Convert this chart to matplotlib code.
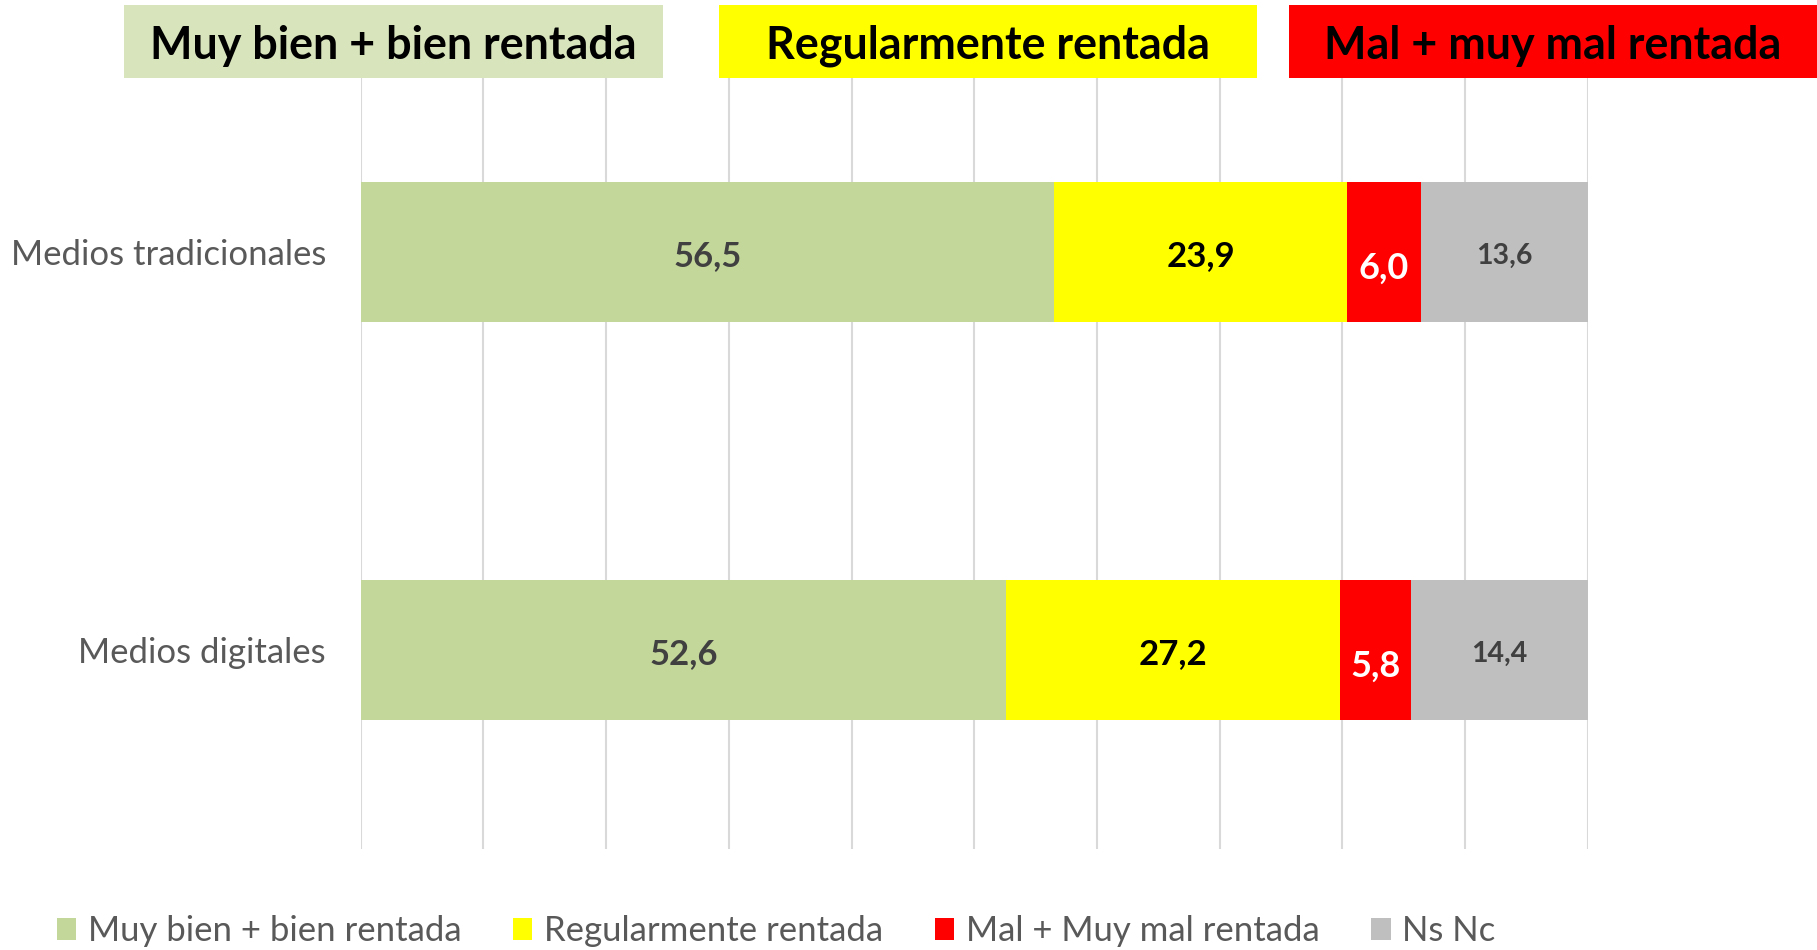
import matplotlib
matplotlib.use("Agg")
import matplotlib.pyplot as plt
from matplotlib.patches import Rectangle, Patch

categories = ["Medios tradicionales", "Medios digitales"]
series_names = ["Muy bien + bien rentada", "Regularmente rentada",
                "Mal + Muy mal rentada", "Ns Nc"]
muy_bien = [56.5, 52.6]
regular = [23.9, 27.2]
mal = [6.0, 5.8]
nsnc = [13.6, 14.4]
header_labels = ["Muy bien + bien rentada", "Regularmente rentada", "Mal + muy mal rentada"]

colors = ["#C4D79B", "#FFFF00", "#FF0000", "#BFBFBF"]
header_colors = ["#D8E4BC", "#FFFF00", "#FF0000"]
label_colors = ["#404040", "#000000", "#FFFFFF", "#404040"]
label_sizes = [25, 25, 26, 20.5]
label_dy = [-0.009, -0.009, -0.04, -0.009]

plt.rcParams['font.family'] = ['Lato', 'DejaVu Sans']

W, H = 1817, 950
fig = plt.figure(figsize=(W / 100, H / 100), dpi=100)
ax = fig.add_axes([360.7 / W, 1 - 849 / H, (1587.7 - 360.7) / W, (849 - 53) / H])

ypos = [1, 0]
series = [muy_bien, regular, mal, nsnc]
left = [0.0, 0.0]
bar_h = 0.354
for si, vals in enumerate(series):
    ax.barh(ypos, vals, left=left, height=bar_h, color=colors[si],
            label=series_names[si], zorder=3)
    for ci, v in enumerate(vals):
        ax.text(left[ci] + v / 2, ypos[ci] + label_dy[si], f"{v:.1f}".replace(".", ","),
                ha="center", va="center", fontsize=label_sizes[si],
                fontweight="bold", color=label_colors[si], zorder=4)
    left = [l + v for l, v in zip(left, vals)]

ax.set_xlim(0, 100)
ax.set_ylim(-0.5, 1.5)
ax.set_xticks(range(0, 101, 10))
ax.xaxis.grid(True, color="#D9D9D9", linewidth=1.5, zorder=0)
ax.set_axisbelow(True)
ax.tick_params(axis="x", bottom=False, labelbottom=False)
ax.set_yticks(ypos)
ax.set_yticklabels(categories, fontsize=25, color="#595959")
ax.tick_params(axis="y", left=False, pad=21.5)
for s in ax.spines.values():
    s.set_visible(False)

# header boxes
boxes = [(124, 663), (718.5, 1257), (1288.5, 1817)]
for (x0, x1), txt, c in zip(boxes, header_labels, header_colors):
    fig.patches.append(Rectangle((x0 / W, 1 - 78 / H), (x1 - x0) / W, 73 / H,
                                 transform=fig.transFigure, facecolor=c,
                                 edgecolor="none", zorder=5))
    fig.text((x0 + x1) / 2 / W, 1 - 46 / H, txt, ha="center", va="center",
             fontsize=32.3, fontweight="bold", color="black", zorder=6)

handles = [Patch(facecolor=c, edgecolor="none") for c in colors]
fig.legend(handles, series_names, loc="center left", bbox_to_anchor=(57 / W, 1 - 931 / H),
           ncol=4, frameon=False, fontsize=25, labelcolor="#595959",
           handlelength=0.55, handleheight=0.6, handletextpad=0.33,
           columnspacing=1.5, borderaxespad=0, borderpad=0)

fig.savefig("out.png", dpi=100)
